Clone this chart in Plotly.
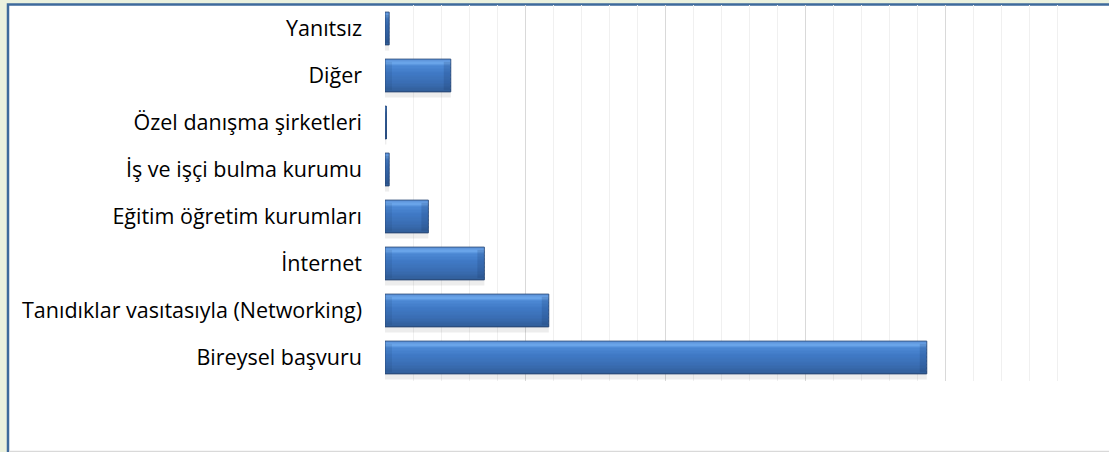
import plotly.graph_objects as go

categories = [
    "Bireysel başvuru",
    "Tanıdıklar vasıtasıyla (Networking)",
    "İnternet",
    "Eğitim öğretim kurumları",
    "İş ve işçi bulma kurumu",
    "Özel danışma şirketleri",
    "Diğer",
    "Yanıtsız",
]
values = [38.7, 11.7, 7.1, 3.1, 0.3, 0.1, 4.7, 0.3]

W, H = 1109, 452
L, R, T, B = 385, 24, 5, 71
pw, ph = W - L - R, H - T - B

def px_x(x):
    return (x - L) / pw

def px_y(y):
    return (H - B - y) / ph

fig = go.Figure()

bar_w = 0.7
# shadow under each bar
fig.add_trace(go.Bar(
    y=categories, x=values, orientation="h",
    base=0, offset=-bar_w / 2 - 0.12, width=0.12,
    marker=dict(color="rgba(0,0,0,0.07)", line=dict(width=0)),
    hoverinfo="skip", showlegend=False,
))

# gradient stripes (bottom dark -> top light)
stops = [
    (0.00, (44, 80, 128)),
    (0.05, (50, 95, 155)),
    (0.30, (58, 110, 180)),
    (0.60, (64, 122, 198)),
    (0.80, (76, 136, 212)),
    (0.90, (106, 165, 234)),
    (1.00, (92, 146, 216)),
]

def interp(t):
    for i in range(len(stops) - 1):
        t0, c0 = stops[i]
        t1, c1 = stops[i + 1]
        if t0 <= t <= t1:
            f = (t - t0) / (t1 - t0) if t1 > t0 else 0
            return tuple(round(c0[k] + (c1[k] - c0[k]) * f) for k in range(3))
    return stops[-1][1]

n = 24
sw = bar_w / n
for i in range(n):
    t = (i + 0.5) / n
    c = interp(t)
    fig.add_trace(go.Bar(
        y=categories, x=values, orientation="h",
        offset=-bar_w / 2 + i * sw, width=sw * 1.02,
        marker=dict(color=f"rgb{c}", line=dict(width=0)),
        hoverinfo="skip", showlegend=False,
    ))

# subtle bevel shading at both bar ends
cap = 0.5
caps = [min(v, cap) for v in values]
fig.add_trace(go.Bar(
    y=categories, x=caps, base=[v - c for v, c in zip(values, caps)], orientation="h",
    offset=-bar_w / 2 + 0.04, width=bar_w - 0.1,
    marker=dict(color="rgba(20,45,90,0.16)", line=dict(width=0)),
    hoverinfo="skip", showlegend=False,
))
fig.add_trace(go.Bar(
    y=categories, x=caps, base=0, orientation="h",
    offset=-bar_w / 2 + 0.04, width=bar_w - 0.1,
    marker=dict(color="rgba(20,45,90,0.10)", line=dict(width=0)),
    hoverinfo="skip", showlegend=False,
))

# outline
fig.add_trace(go.Bar(
    y=categories, x=values, orientation="h",
    offset=-bar_w / 2, width=bar_w,
    marker=dict(color="rgba(0,0,0,0)", line=dict(color="rgba(40,70,115,0.8)", width=1)),
    hoverinfo="skip", showlegend=False,
))

fig.update_layout(
    width=W, height=H,
    margin=dict(l=L, r=R, t=T, b=B),
    paper_bgcolor="#EBF1DE",
    plot_bgcolor="rgba(0,0,0,0)",
    barmode="overlay",
    showlegend=False,
    font=dict(family="Open Sans, sans-serif", size=21.5, color="#000000"),
    xaxis=dict(
        range=[0, 50], dtick=10, showticklabels=False,
        showgrid=True, gridcolor="#D9D9D9", gridwidth=1,
        minor=dict(dtick=2, showgrid=True, gridcolor="#F0F0F0", gridwidth=1),
        zeroline=False, showline=False, fixedrange=True,
    ),
    yaxis=dict(
        categoryorder="array", categoryarray=categories,
        showgrid=False, zeroline=False, showline=False,
        ticks="", ticklabelstandoff=22, fixedrange=True,
        range=[-0.5, len(categories) - 0.5],
    ),
    shapes=[
        dict(type="rect", xref="paper", yref="paper", layer="below",
             x0=px_x(8), x1=px_x(W + 20), y0=px_y(H + 20), y1=px_y(4.5),
             fillcolor="#FFFFFF", line=dict(color="#3E6A9C", width=2.5)),
        dict(type="line", xref="paper", yref="paper", layer="below",
             x0=px_x(9), x1=px_x(W), y0=px_y(451.5), y1=px_y(451.5),
             line=dict(color="#D9D9D9", width=1.5)),
    ],
)

fig.write_html(
    "out.html",
    config={"displayModeBar": False},
    post_script="document.body.style.margin='0';document.body.style.overflow='hidden';",
)
